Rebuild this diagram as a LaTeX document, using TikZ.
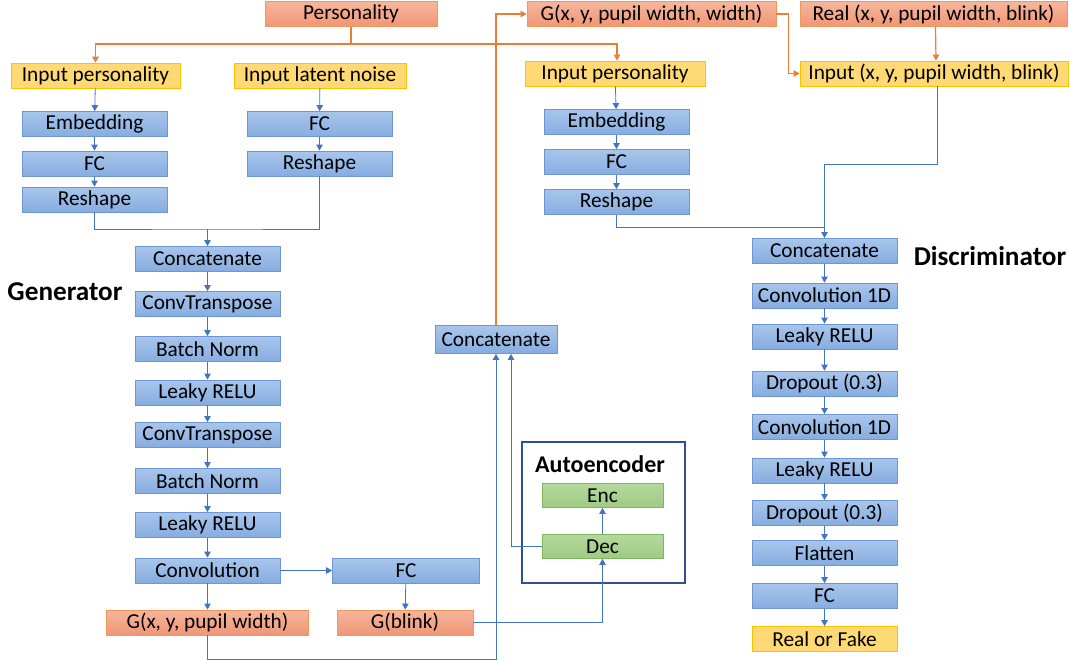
\documentclass[tikz,border=0pt]{standalone}
\usepackage{fontspec}
\setmainfont{Carlito}
\usetikzlibrary{arrows.meta}

\definecolor{bxline}{RGB}{110,150,214}
\definecolor{bxtop}{RGB}{168,198,235}
\definecolor{bxbot}{RGB}{134,172,224}
\definecolor{ortop}{RGB}{246,182,156}
\definecolor{orbot}{RGB}{240,150,118}
\definecolor{orline}{RGB}{237,125,49}
\definecolor{yefill}{RGB}{255,217,115}
\definecolor{yeline}{RGB}{255,192,0}
\definecolor{grtop}{RGB}{180,216,158}
\definecolor{grbot}{RGB}{158,203,131}
\definecolor{grline}{RGB}{125,185,90}
\definecolor{conn}{RGB}{68,114,196}
\definecolor{aeline}{RGB}{47,79,143}

\begin{document}
\begin{tikzpicture}
[every node/.style={inner sep=0pt, font=\fontsize{21.3}{25}\selectfont},
 blk/.style={rectangle, minimum width=145pt, minimum height=25pt, top color=bxtop, bottom color=bxbot, draw=bxline, line width=0.8pt},
 org/.style={rectangle, minimum height=25pt, top color=ortop, bottom color=orbot, draw=orline!80, line width=0.8pt},
 yel/.style={rectangle, minimum height=25pt, fill=yefill, draw=yeline, line width=0.8pt},
 grn/.style={rectangle, minimum width=121pt, minimum height=24pt, top color=grtop, bottom color=grbot, draw=grline, line width=0.8pt},
 ttl/.style={font=\fontsize{27.2}{31}\selectfont\bfseries},
 bl/.style={line width=0.8pt, color=conn},
 bla/.style={bl, -{Triangle[width=6.5pt,length=6pt]}},
 ora/.style={line width=1.2pt, color=orline, -{Triangle[width=6.5pt,length=6pt]}}]
\useasboundingbox (0pt,0pt) rectangle (1070pt,-661pt);
% generator
\node (pers) [org, minimum width=172pt] at (351pt, -14pt) {Personality};
\node (inpL) [yel, minimum width=169pt] at (95.5pt, -75.5pt) {Input personality};
\node (inpN) [yel, minimum width=172pt] at (320pt, -75.5pt) {Input latent noise};
\node (embL) [blk] at (94.5pt, -124pt) {Embedding};
\node (fcL) [blk] at (94.5pt, -163.5pt) {FC};
\node (rsL) [blk] at (94.5pt, -199.5pt) {Reshape};
\node (fcN) [blk] at (319.5pt, -124pt) {FC};
\node (rsN) [blk] at (319.5pt, -163.5pt) {Reshape};
\node (g1) [blk] at (207.5pt, -259pt) {Concatenate};
\node (g2) [blk] at (207.5pt, -304pt) {ConvTranspose};
\node (g3) [blk] at (207.5pt, -349pt) {Batch Norm};
\node (g4) [blk] at (207.5pt, -392.5pt) {Leaky RELU};
\node (g5) [blk] at (207.5pt, -435pt) {ConvTranspose};
\node (g6) [blk] at (207.5pt, -481pt) {Batch Norm};
\node (g7) [blk] at (207.5pt, -525pt) {Leaky RELU};
\node (g8) [blk] at (207.5pt, -570.5pt) {Convolution};
\node (gx) [org, minimum width=202pt] at (207.5pt, -622.5pt) {G(x, y, pupil width)};
\node (fcB) [blk, minimum width=147pt] at (406pt, -570.5pt) {FC};
\node (gb) [org, minimum width=136pt] at (405pt, -622.5pt) {G(blink)};
\node (gen) [ttl] at (65pt, -292pt) {Generator};
% autoencoder
\node (ae) [rectangle, draw=aeline, line width=1.2pt, minimum width=163pt, minimum height=141pt] at (603.5pt, -512.5pt) {};
\node (aet) [font=\fontsize{24}{28}\selectfont\bfseries] at (600pt, -464pt) {Autoencoder};
\node (enc) [grn] at (602.5pt, -495.5pt) {Enc};
\node (dec) [grn] at (602.5pt, -546.5pt) {Dec};
\node (catM) [blk, minimum width=122pt, minimum height=28pt] at (496pt, -339.5pt) {Concatenate};
% discriminator
\node (gw) [org, minimum width=249pt] at (651.5pt, -14pt) {G(x, y, pupil width, width)};
\node (real) [org, minimum width=267pt] at (933.5pt, -14pt) {Real (x, y, pupil width, blink)};
\node (inpR) [yel, minimum width=180pt] at (615pt, -73.5pt) {Input personality};
\node (inD) [yel, minimum width=268pt] at (934pt, -73.5pt) {Input (x, y, pupil width, blink)};
\node (embR) [blk] at (616.5pt, -122pt) {Embedding};
\node (fcR) [blk] at (616.5pt, -162pt) {FC};
\node (rsR) [blk] at (616.5pt, -202pt) {Reshape};
\node (d1) [blk] at (824.5pt, -251pt) {Concatenate};
\node (d2) [blk] at (824.5pt, -295.5pt) {Convolution 1D};
\node (d3) [blk] at (824.5pt, -336.5pt) {Leaky RELU};
\node (d4) [blk] at (824.5pt, -383.5pt) {Dropout (0.3)};
\node (d5) [blk] at (824.5pt, -427pt) {Convolution 1D};
\node (d6) [blk] at (824.5pt, -470.5pt) {Leaky RELU};
\node (d7) [blk] at (824.5pt, -513pt) {Dropout (0.3)};
\node (d8) [blk] at (824.5pt, -553pt) {Flatten};
\node (d9) [blk] at (824.5pt, -596pt) {FC};
\node (rf) [yel, minimum width=145pt] at (824.5pt, -639pt) {Real or Fake};
\node (dis) [ttl] at (990pt, -256pt) {Discriminator};
\coordinate (p1) at (351pt, -44pt);
\coordinate (m1) at (207.5pt, -229pt);
\coordinate (m2) at (824.5pt, -164pt);
\coordinate (m3) at (824.5pt, -227pt);
\coordinate (b1) at (496pt, -659pt);
% orange links
\draw [ora] (pers) -- (p1) -| (inpL);
\draw [ora] (p1) -| ([xshift=2pt]inpR.north);
\draw [ora] (catM.north) |- (gw.west);
\draw [ora] (gw.east) -- ++(12pt,0) |- (inD.west);
\draw [ora] ([xshift=2pt]real.south) -- ([xshift=2pt]inD.north);
% blue links
\draw [bla] (inpL) -- (embL);
\draw [bla] (embL) -- (fcL);
\draw [bla] (fcL) -- (rsL);
\draw [bla] (inpN) -- (fcN);
\draw [bla] (fcN) -- (rsN);
\draw [bl] (rsL.south) |- (m1) -| (rsN.south);
\draw [bla] (m1) -- (g1);
\foreach \a/\b in {g1/g2, g2/g3, g3/g4, g4/g5, g5/g6, g6/g7, g7/g8, g8/gx}
  \draw [bla] (\a) -- (\b);
\draw [bla] (g8) -- (fcB);
\draw [bla] (fcB) -- (gb);
\draw [bla] (gb.east) -| (dec.south);
\draw [bla] (dec) -- (enc);
\draw [bla] (dec.west) -| ([xshift=15pt]catM.south);
\draw [bla] (gx.south) |- (b1) -- (catM.south);
\draw [bla] (inpR) -- (embR);
\draw [bla] (embR) -- (fcR);
\draw [bla] (fcR) -- (rsR);
\draw [bl] ([xshift=3pt]inD.south) |- (m2);
\draw [bl] (rsR.south) |- (m3);
\draw [bla] (m2) -- (d1);
\foreach \a/\b in {d1/d2, d2/d3, d3/d4, d4/d5, d5/d6, d6/d7, d7/d8, d8/d9, d9/rf}
  \draw [bla] (\a) -- (\b);
\end{tikzpicture}
\end{document}
